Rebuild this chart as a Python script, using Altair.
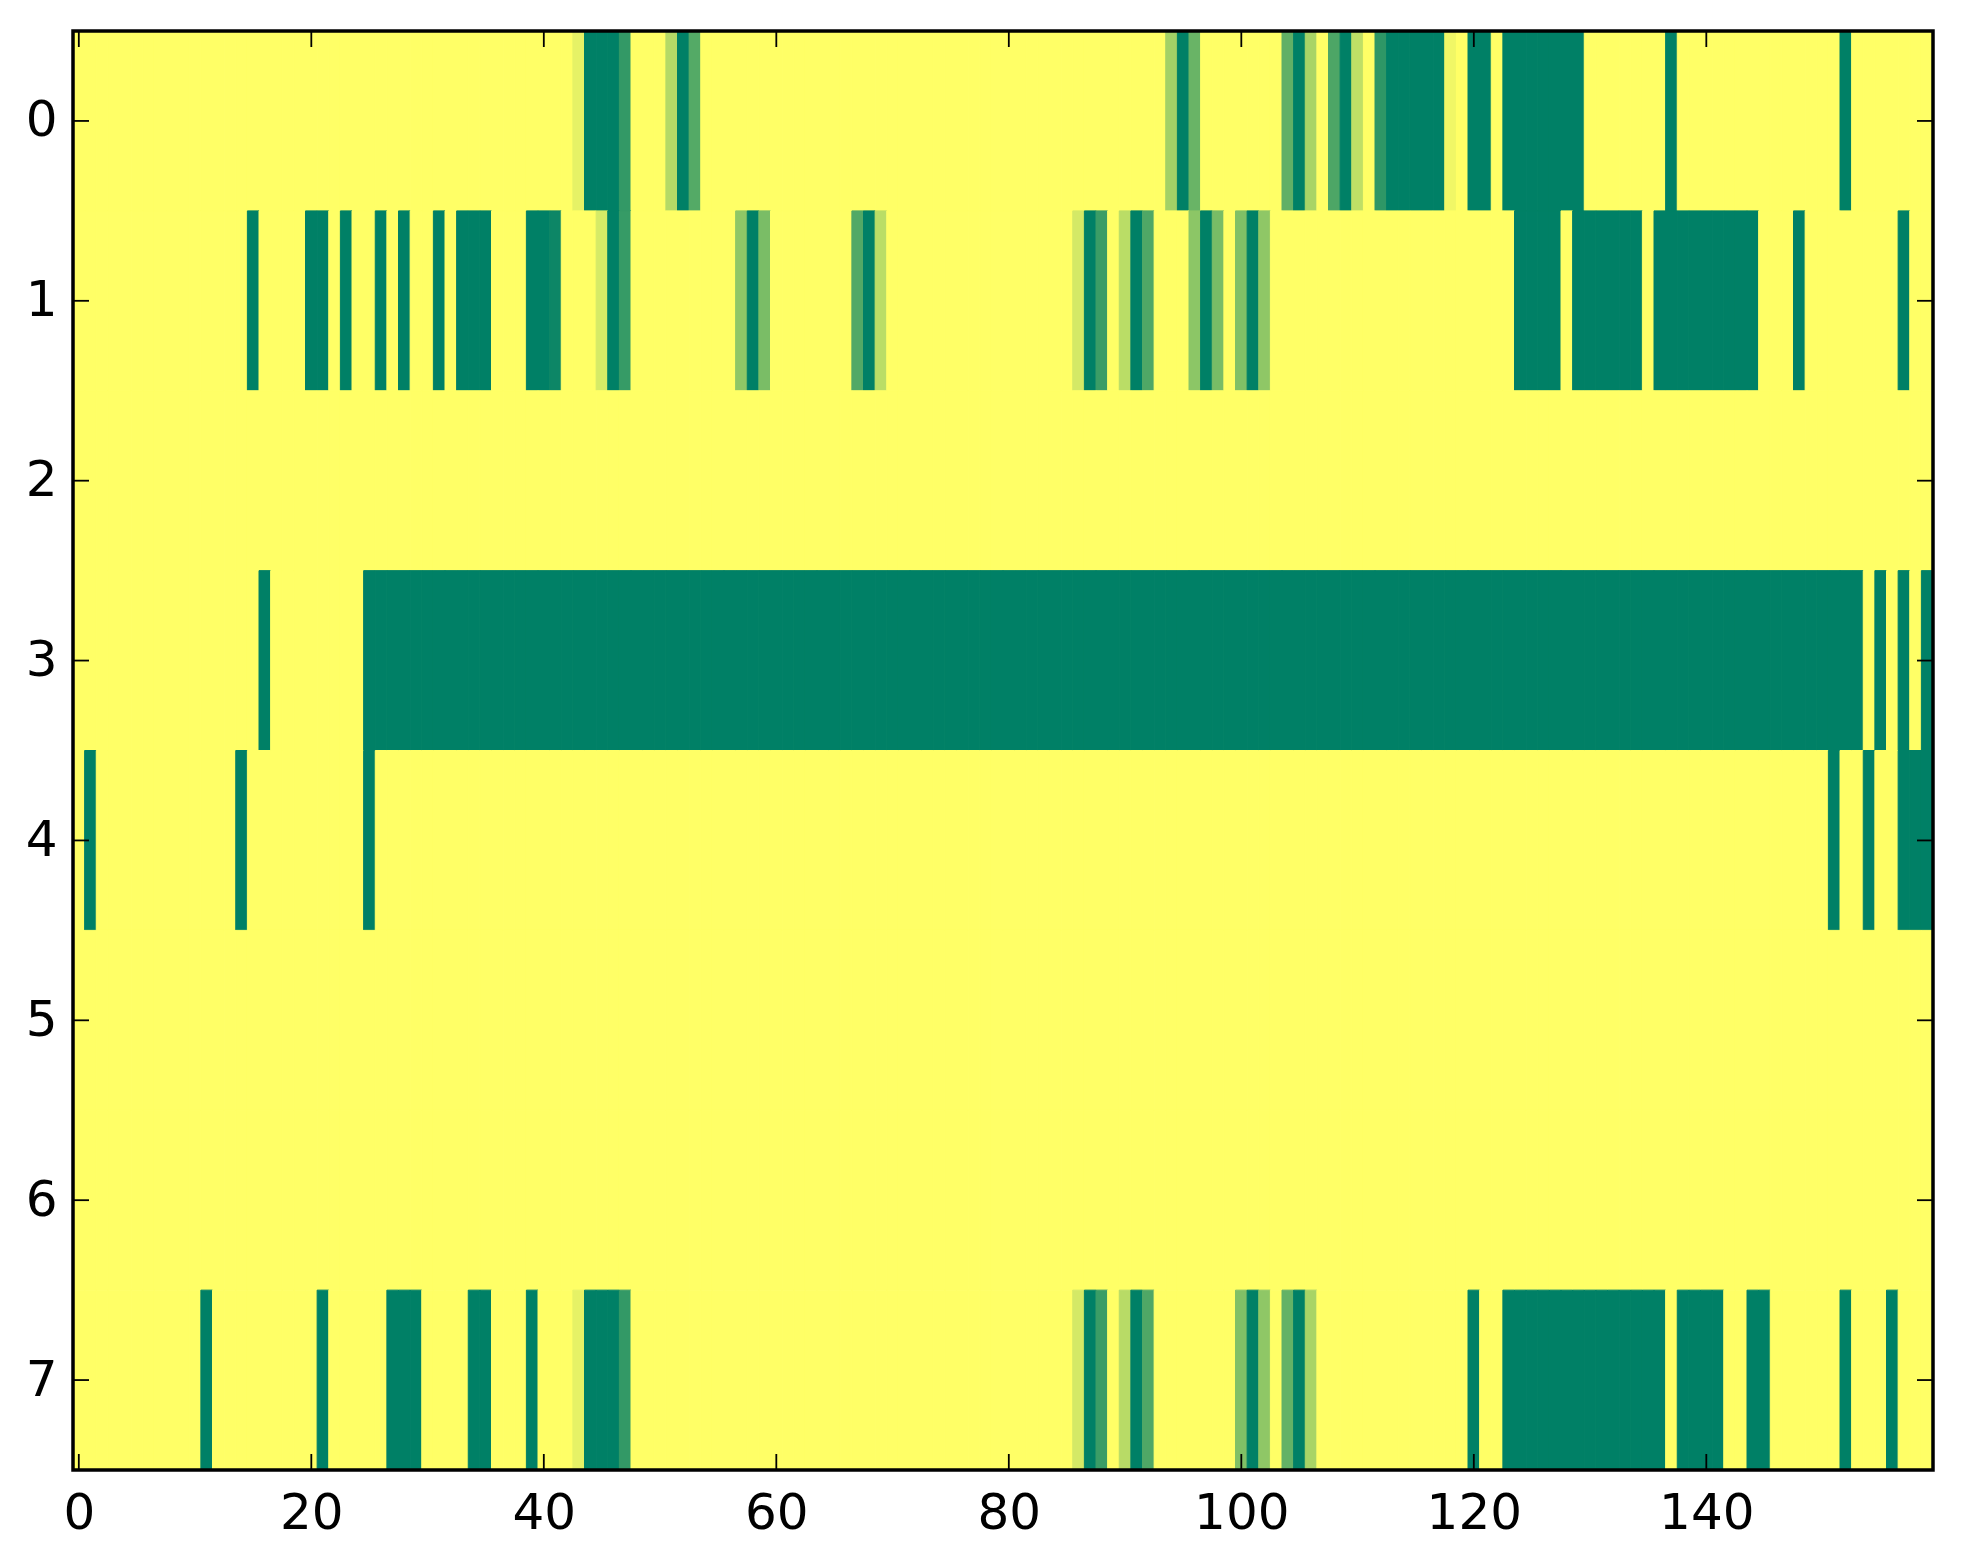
import altair as alt
import pandas as pd

# ---- cell values (rows 0..7, columns 0..159) ----
row0 = [
    0, 0, 0, 0, 0, 0, 0, 0, 0, 0, 0, 0, 0, 0, 0, 0, 0, 0, 0, 0,
    0, 0, 0, 0, 0, 0, 0, 0, 0, 0, 0, 0, 0, 0, 0, 0, 0, 0, 0, 0,
    0, 0, 0, 0.1, 1, 1, 1, 0.8, 0, 0, 0, 0.29, 1, 0.67, 0, 0, 0, 0, 0, 0,
    0, 0, 0, 0, 0, 0, 0, 0, 0, 0, 0, 0, 0, 0, 0, 0, 0, 0, 0, 0,
    0, 0, 0, 0, 0, 0, 0, 0, 0, 0, 0, 0, 0, 0, 0.36, 1, 0.59, 0, 0, 0,
    0, 0, 0, 0, 0.62, 1, 0.34, 0, 0.7, 1, 0.25, 0, 0.82, 1, 1, 1, 1, 1, 0.06, 0,
    1, 1, 0, 1, 1, 1, 1, 1, 1, 1, 0, 0, 0, 0, 0, 0, 0, 1, 0, 0,
    0, 0, 0, 0, 0, 0, 0, 0, 0, 0, 0, 0, 1, 0, 0, 0, 0, 0, 0, 0,
]
row1 = [
    0, 0, 0, 0, 0, 0, 0, 0, 0, 0, 0, 0, 0, 0, 0, 1, 0, 0, 0, 0,
    1, 1, 0, 1, 0, 0, 1, 0, 1, 0, 0, 1, 0, 1, 1, 1, 0, 0, 0, 1,
    1, 0.95, 0, 0, 0, 0.16, 1, 0.79, 0, 0, 0, 0, 0, 0, 0, 0, 0, 0.44, 1, 0.52,
    0, 0, 0, 0, 0, 0, 0, 0.68, 1, 0.27, 0, 0, 0, 0, 0, 0, 0, 0, 0, 0,
    0, 0, 0, 0, 0, 0, 0.17, 1, 0.77, 0, 0.27, 1, 0.69, 0, 0, 0, 0.45, 1, 0.53, 0,
    0.5, 1, 0.44, 0, 0, 0, 0, 0, 0, 0, 0, 0, 0, 0, 0, 0, 0, 0, 0, 0,
    0, 0, 0, 0, 1, 1, 1, 1, 0, 1, 1, 1, 1, 1, 1, 0, 1, 1, 1, 1,
    1, 1, 1, 1, 1, 0, 0, 0, 1, 0, 0, 0, 0, 0, 0, 0, 0, 1, 0, 0,
]
row2 = [
    0, 0, 0, 0, 0, 0, 0, 0, 0, 0, 0, 0, 0, 0, 0, 0, 0, 0, 0, 0,
    0, 0, 0, 0, 0, 0, 0, 0, 0, 0, 0, 0, 0, 0, 0, 0, 0, 0, 0, 0,
    0, 0, 0, 0, 0, 0, 0, 0, 0, 0, 0, 0, 0, 0, 0, 0, 0, 0, 0, 0,
    0, 0, 0, 0, 0, 0, 0, 0, 0, 0, 0, 0, 0, 0, 0, 0, 0, 0, 0, 0,
    0, 0, 0, 0, 0, 0, 0, 0, 0, 0, 0, 0, 0, 0, 0, 0, 0, 0, 0, 0,
    0, 0, 0, 0, 0, 0, 0, 0, 0, 0, 0, 0, 0, 0, 0, 0, 0, 0, 0, 0,
    0, 0, 0, 0, 0, 0, 0, 0, 0, 0, 0, 0, 0, 0, 0, 0, 0, 0, 0, 0,
    0, 0, 0, 0, 0, 0, 0, 0, 0, 0, 0, 0, 0, 0, 0, 0, 0, 0, 0, 0,
]
row3 = [
    0, 0, 0, 0, 0, 0, 0, 0, 0, 0, 0, 0, 0, 0, 0, 0, 1, 0, 0, 0,
    0, 0, 0, 0, 0, 1, 1, 1, 1, 1, 1, 1, 1, 1, 1, 1, 1, 1, 1, 1,
    1, 1, 1, 1, 1, 1, 1, 1, 1, 1, 1, 1, 1, 1, 1, 1, 1, 1, 1, 1,
    1, 1, 1, 1, 1, 1, 1, 1, 1, 1, 1, 1, 1, 1, 1, 1, 1, 1, 1, 1,
    1, 1, 1, 1, 1, 1, 1, 1, 1, 1, 1, 1, 1, 1, 1, 1, 1, 1, 1, 1,
    1, 1, 1, 1, 1, 1, 1, 1, 1, 1, 1, 1, 1, 1, 1, 1, 1, 1, 1, 1,
    1, 1, 1, 1, 1, 1, 1, 1, 1, 1, 1, 1, 1, 1, 1, 1, 1, 1, 1, 1,
    1, 1, 1, 1, 1, 1, 1, 1, 1, 1, 1, 1, 1, 1, 0, 1, 0, 1, 0, 1,
]
row4 = [
    0, 1, 0, 0, 0, 0, 0, 0, 0, 0, 0, 0, 0, 0, 1, 0, 0, 0, 0, 0,
    0, 0, 0, 0, 0, 1, 0, 0, 0, 0, 0, 0, 0, 0, 0, 0, 0, 0, 0, 0,
    0, 0, 0, 0, 0, 0, 0, 0, 0, 0, 0, 0, 0, 0, 0, 0, 0, 0, 0, 0,
    0, 0, 0, 0, 0, 0, 0, 0, 0, 0, 0, 0, 0, 0, 0, 0, 0, 0, 0, 0,
    0, 0, 0, 0, 0, 0, 0, 0, 0, 0, 0, 0, 0, 0, 0, 0, 0, 0, 0, 0,
    0, 0, 0, 0, 0, 0, 0, 0, 0, 0, 0, 0, 0, 0, 0, 0, 0, 0, 0, 0,
    0, 0, 0, 0, 0, 0, 0, 0, 0, 0, 0, 0, 0, 0, 0, 0, 0, 0, 0, 0,
    0, 0, 0, 0, 0, 0, 0, 0, 0, 0, 0, 1, 0, 0, 1, 0, 0, 1, 1, 1,
]
row5 = list(row2)
row6 = list(row2)
row7 = [
    0, 0, 0, 0, 0, 0, 0, 0, 0, 0, 0, 1, 0, 0, 0, 0, 0, 0, 0, 0,
    0, 1, 0, 0, 0, 0, 0, 1, 1, 1, 0, 0, 0, 0, 1, 1, 0, 0, 0, 1,
    0, 0, 0, 0.1, 1, 1, 1, 0.8, 0, 0, 0, 0, 0, 0, 0, 0, 0, 0, 0, 0,
    0, 0, 0, 0, 0, 0, 0, 0, 0, 0, 0, 0, 0, 0, 0, 0, 0, 0, 0, 0,
    0, 0, 0, 0, 0, 0, 0.17, 1, 0.77, 0, 0.28, 1, 0.69, 0, 0, 0, 0, 0, 0, 0,
    0.5, 1, 0.44, 0, 0.61, 1, 0.34, 0, 0, 0, 0, 0, 0, 0, 0, 0, 0, 0, 0, 0,
    1, 0, 0, 1, 1, 1, 1, 1, 1, 1, 1, 1, 1, 1, 1, 1, 1, 0, 1, 1,
    1, 1, 0, 0, 1, 1, 0, 0, 0, 0, 0, 0, 1, 0, 0, 0, 1, 0, 0, 0,
]
rows = [row0, row1, row2, row3, row4, row5, row6, row7]

x_ticks = [0, 20, 40, 60, 80, 100, 120, 140]
y_ticks = [0, 1, 2, 3, 4, 5, 6, 7]

records = []
for r, vals in enumerate(rows):
    for c, v in enumerate(vals):
        records.append({"row": r, "col": c, "v": v})
df = pd.DataFrame(records)

W, H = 1860, 1439
FONT = "DejaVu Sans"

xscale = alt.Scale(domain=[-0.5, 159.5], nice=False, zero=False)
yscale = alt.Scale(domain=[-0.5, 7.5], nice=False, zero=False, reverse=True)
cscale = alt.Scale(domain=[0, 1], range=["#ffff66", "#008066"], interpolate="rgb")

x_axis = alt.Axis(values=x_ticks, format="d", title=None, ticks=False,
                  domain=False, grid=False, labelFlush=False,
                  labelPadding=18, labelFont=FONT, labelFontSize=50,
                  labelColor="black")
y_axis = alt.Axis(values=y_ticks, format="d", title=None, ticks=False,
                  domain=False, grid=False, labelFlush=False,
                  labelPadding=16, labelFont=FONT, labelFontSize=50,
                  labelColor="black", minExtent=60, maxExtent=60)

heat = (
    alt.Chart(df)
    .transform_calculate(
        x0="datum.col - 0.5", x1="datum.col + 0.5",
        y0="datum.row - 0.5", y1="datum.row + 0.5",
    )
    .mark_rect(strokeWidth=1.0)
    .encode(
        x=alt.X("x0:Q", scale=xscale, axis=x_axis),
        x2="x1:Q",
        y=alt.Y("y0:Q", scale=yscale, axis=y_axis),
        y2="y1:Q",
        color=alt.Color("v:Q", scale=cscale, legend=None),
        stroke=alt.Stroke("v:Q", scale=cscale, legend=None),
    )
)

xt = pd.DataFrame({"t": x_ticks})
yt = pd.DataFrame({"t": y_ticks})
tick_style = dict(color="black", strokeWidth=1.8)

top_ticks = alt.Chart(xt).mark_rule(**tick_style).encode(
    x=alt.X("t:Q", scale=xscale, axis=x_axis), y=alt.value(0), y2=alt.value(16))
bottom_ticks = alt.Chart(xt).mark_rule(**tick_style).encode(
    x=alt.X("t:Q", scale=xscale, axis=x_axis), y=alt.value(H - 16), y2=alt.value(H))
left_ticks = alt.Chart(yt).mark_rule(**tick_style).encode(
    y=alt.Y("t:Q", scale=yscale, axis=y_axis), x=alt.value(0), x2=alt.value(16))
right_ticks = alt.Chart(yt).mark_rule(**tick_style).encode(
    y=alt.Y("t:Q", scale=yscale, axis=y_axis), x=alt.value(W - 16), x2=alt.value(W))

# plot frame (spines) drawn on top of the cells
frame = alt.Chart(pd.DataFrame({"f": [0]})).mark_rect(
    filled=False, stroke="black", strokeWidth=3.5, fill=None
).encode(x=alt.value(0), x2=alt.value(W), y=alt.value(0), y2=alt.value(H))

chart = (
    alt.layer(heat, top_ticks, bottom_ticks, left_ticks, right_ticks, frame)
    .properties(width=W, height=H, background="white",
                padding={"left": 5, "top": 21, "right": 10, "bottom": 5})
    .configure_view(stroke=None)
)

chart.save("out.html", embed_options={"renderer": "svg", "actions": False})
